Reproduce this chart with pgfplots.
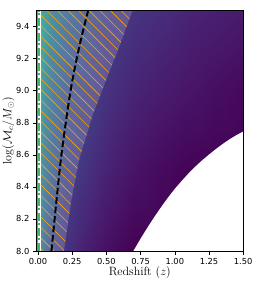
\documentclass[border=0pt]{standalone}
\usepackage{fontspec}
\usepackage{pgfplots}
\pgfplotsset{compat=1.18}
\usetikzlibrary{patterns.meta}
\newfontfamily\dejavu{DejaVu Sans}
\definecolor{mygreen}{RGB}{60,185,100}
\definecolor{hatchorange}{RGB}{255,165,0}
\begin{document}
\begin{tikzpicture}
\begin{axis}[
  scale only axis,
  width=206.8pt, height=240.3pt,
  xmin=-0.012, xmax=1.5, ymin=8.0, ymax=9.5,
  axis on top,
  colormap/viridis,
  point meta min=0, point meta max=1,
  xtick={0,0.25,0.5,0.75,1.0,1.25,1.5},
  xticklabels={0.00,0.25,0.50,0.75,1.00,1.25,1.50},
  ytick={8.0,8.2,8.4,8.6,8.8,9.0,9.2,9.4},
  yticklabels={8.0,8.2,8.4,8.6,8.8,9.0,9.2,9.4},
  tick label style={font=\dejavu\fontsize{8.3}{9}\selectfont},
  tick align=outside, xtick pos=bottom, ytick pos=left,
  major tick length=3.5pt,
  tick style={black, line width=0.6pt},
  axis line style={line width=0.7pt},
  xlabel={Redshift ($z$)},
  ylabel={$\log(\mathcal{M}_c/M_\odot)$},
  label style={font=\fontsize{12}{14}\selectfont},
  xlabel style={yshift=5pt},
  ylabel style={yshift=-5pt},
]
% colour field (estimated colour value v at grid points)
\addplot[surf, shader=interp, mesh/rows=4, mesh/cols=16, point meta=\thisrow{v}] table[x=z,y=M] {
z M v
0.00 8.0 0.575
0.01 8.0 0.452
0.02 8.0 0.382
0.04 8.0 0.313
0.07 8.0 0.256
0.10 8.0 0.220
0.15 8.0 0.176
0.20 8.0 0.144
0.30 8.0 0.099
0.40 8.0 0.066
0.50 8.0 0.040
0.70 8.0 0.000
0.90 8.0 0.000
1.10 8.0 0.000
1.30 8.0 0.000
1.50 8.0 0.000

0.00 8.5 0.640
0.01 8.5 0.517
0.02 8.5 0.447
0.04 8.5 0.378
0.07 8.5 0.321
0.10 8.5 0.285
0.15 8.5 0.241
0.20 8.5 0.205
0.30 8.5 0.160
0.40 8.5 0.125
0.50 8.5 0.095
0.70 8.5 0.050
0.90 8.5 0.025
1.10 8.5 0.005
1.30 8.5 0.000
1.50 8.5 0.000

0.00 9.0 0.705
0.01 9.0 0.582
0.02 9.0 0.512
0.04 9.0 0.443
0.07 9.0 0.386
0.10 9.0 0.345
0.15 9.0 0.300
0.20 9.0 0.262
0.30 9.0 0.215
0.40 9.0 0.180
0.50 9.0 0.145
0.70 9.0 0.100
0.90 9.0 0.075
1.10 9.0 0.055
1.30 9.0 0.035
1.50 9.0 0.020

0.00 9.5 0.770
0.01 9.5 0.647
0.02 9.5 0.577
0.04 9.5 0.508
0.07 9.5 0.451
0.10 9.5 0.405
0.15 9.5 0.360
0.20 9.5 0.320
0.30 9.5 0.270
0.40 9.5 0.230
0.50 9.5 0.190
0.70 9.5 0.150
0.90 9.5 0.125
1.10 9.5 0.100
1.30 9.5 0.085
1.50 9.5 0.070
};
% white region below the detection limit
\addplot[fill=white, draw=none] coordinates {
(0.697,8.0) (0.75,8.077) (0.80,8.146) (0.85,8.212) (0.90,8.274) (0.95,8.333)
(1.00,8.388) (1.05,8.437) (1.10,8.484) (1.15,8.527) (1.20,8.566) (1.25,8.602)
(1.30,8.636) (1.35,8.668) (1.40,8.697) (1.45,8.723) (1.50,8.746) (1.52,8.756)
(1.52,7.98) (0.69,7.98)} -- cycle;
% white strip at low redshift
\addplot[fill=white, draw=none] coordinates {(-0.02,7.98) (0.02,7.98) (0.02,9.52) (-0.02,9.52)} -- cycle;
% lighter band
\addplot[fill=white, fill opacity=0.17, draw=none] coordinates {
(0.02,8.0) (0.19,8.0) (0.24,8.3) (0.30,8.57) (0.40,8.85) (0.49,9.05) (0.60,9.29) (0.69,9.5) (0.02,9.5)} -- cycle;
% hatching
\addplot[draw=none, pattern={Lines[angle=-45,distance=7.5pt,line width=0.6pt]}, pattern color=hatchorange] coordinates {
(0.02,8.0) (0.19,8.0) (0.24,8.3) (0.30,8.57) (0.40,8.85) (0.49,9.05) (0.60,9.29) (0.69,9.5) (0.02,9.5)} -- cycle;
% dashed line
\addplot[black, line width=2pt, dash pattern=on 6.5pt off 3pt, smooth] coordinates {
(0.098,8.0) (0.133,8.3) (0.168,8.58) (0.211,8.85) (0.25,9.06) (0.308,9.3) (0.366,9.5)};
% green lines at low redshift
\addplot[mygreen, line width=1.3pt] coordinates {(-0.004,8.0) (-0.004,9.5)};
\addplot[mygreen, line width=2pt, dash pattern=on 8pt off 2.5pt on 2pt off 2.5pt] coordinates {(0.010,8.0) (0.010,9.5)};
\end{axis}
\pgfresetboundingbox
\path ([shift={(-36.4pt,-31pt)}]current axis.south west) rectangle ([shift={(11.8pt,10.7pt)}]current axis.north east);
\end{tikzpicture}
\end{document}
